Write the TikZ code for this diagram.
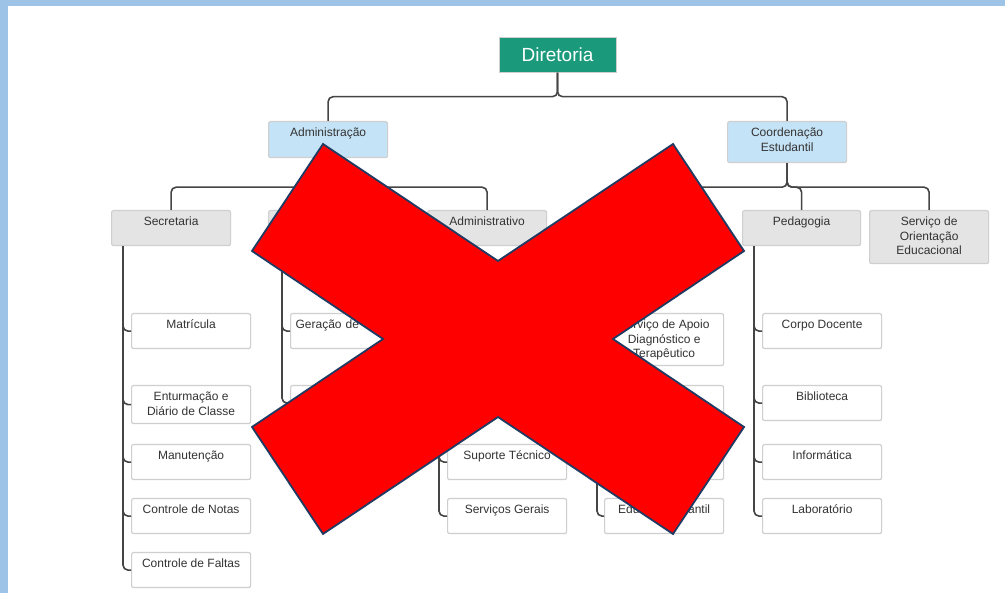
\documentclass[tikz,border=0pt]{standalone}
\usepackage{fontspec}
\setmainfont{Liberation Sans}
\definecolor{frameblue}{HTML}{9DC3E6}
\definecolor{dirgreen}{HTML}{1B997B}
\definecolor{admblue}{HTML}{C5E3F6}
\definecolor{unitgray}{HTML}{E4E4E4}
\definecolor{boxline}{HTML}{CFCFCF}
\definecolor{linkgray}{HTML}{454545}
\definecolor{textgray}{HTML}{333333}
\definecolor{crossred}{HTML}{FF0000}
\definecolor{crossnavy}{HTML}{1F3B63}
\begin{document}
\begin{tikzpicture}[x=1pt, y=-1pt,
    unit/.style={draw=boxline, line width=1.2pt, rounded corners=2pt, inner sep=0pt,
      minimum width=119pt, text height=15pt, text depth=20pt, anchor=north west,
      align=center, text=textgray, font=\fontsize{12}{14.5}\selectfont},
    twolines/.style={text height=29.5pt, text depth=#1},
    threelines/.style={text height=44pt, text depth=#1},
    branch/.style={unit, fill=admblue},
    dept/.style={unit, fill=unitgray},
    task/.style={unit, fill=white},
    link/.style={draw=linkgray, line width=1.6pt, rounded corners=5pt}]
    % Page and frame
    \useasboundingbox (0,0) rectangle (1005,593);
    \fill[white] (0,0) rectangle (1005,593);
    \fill[frameblue] (0,0) rectangle (1005,6);
    \fill[frameblue] (0,0) rectangle (8,593);

    % Top of the chart
    \node[draw=boxline, fill=dirgreen, text=white, font=\fontsize{19}{22}\selectfont,
      minimum width=117pt, minimum height=35pt, inner sep=0pt] (dir) at (557.5,55) {Diretoria};
    \node[branch, text depth=21pt] (adm) at (268,121) {Administração};
    \node[branch, twolines=11.5pt] (coord) at (727,121) {Coordenação\\Estudantil};

    % Departments
    \node[dept] (sec) at (111,210) {Secretaria};
    \node[dept] (unitb) at (268,210) {};
    \node[dept] (admv) at (427,210) {Administrativo};
    \node[dept] (unitd) at (585,210) {};
    \node[dept, minimum width=118pt] (ped) at (742,210) {Pedagogia};
    \node[dept, threelines=9pt] (soe) at (869,210) {Serviço de\\Orientação\\Educacional};

    % Secretaria
    \node[task] (mat) at (131,313) {Matrícula};
    \node[task, twolines=8.5pt] (ent) at (131,385) {Enturmação e\\Diário de Classe};
    \node[task] (man) at (131,444) {Manutenção};
    \node[task] (notas) at (131,498) {Controle de Notas};
    \node[task] (faltas) at (131,552) {Controle de Faltas};

    % second department
    \node[task, text width=109pt, inner xsep=5pt, align=left] (ger) at (290,313) {Geração de};
    \node[task] (unitbb) at (290,385) {};

    % Administrativo
    \node[task] (sup) at (447,444) {Suporte Técnico};
    \node[task] (serv) at (447,498) {Serviços Gerais};

    % fourth department
    \node[task, threelines=8pt] (apoio) at (604,313) {Serviço de Apoio\\Diagnóstico e\\Terapêutico};
    \node[task] (unitdb) at (604,385) {};
    \node[task] (unitdc) at (604,444) {};
    \node[task] (edu) at (604,498) {Educação Infantil};

    % Pedagogia
    \node[task] (corpo) at (762,313) {Corpo Docente};
    \node[task] (bib) at (762,385) {Biblioteca};
    \node[task] (info) at (762,444) {Informática};
    \node[task] (lab) at (762,498) {Laboratório};

    % Brackets between levels
    \foreach \b in {adm,coord}
      \draw[link] (dir.south) -- ++(0,24) -| (\b.north);
    \foreach \d in {sec,admv}
      \draw[link] (adm.south) -- ++(0,29) -| (\d.north);
    \draw[link] (adm.south) -- (unitb.north);
    \foreach \d in {unitd,ped,soe}
      \draw[link] (coord.south) -- ++(0,24) -| (\d.north);

    % Lists under the departments
    \foreach \t in {mat,ent,man,notas,faltas}
      \draw[link] ([xshift=12pt]sec.south west) |- (\t.west);
    \foreach \t in {ger,unitbb}
      \draw[link] ([xshift=14pt]unitb.south west) |- (\t.west);
    \foreach \t in {sup,serv}
      \draw[link] ([xshift=12pt]admv.south west) |- (\t.west);
    \foreach \t in {apoio,unitdb,unitdc,edu}
      \draw[link] ([xshift=12pt]unitd.south west) |- (\t.west);
    \foreach \t in {corpo,bib,info,lab}
      \draw[link] ([xshift=12pt]ped.south west) |- (\t.west);

    % Red cross over the chart
    \draw[crossnavy, fill=crossred, line width=1.8pt, line join=miter]
      (323,144) -- (498,261) -- (673,144) -- (744,251) -- (613,339) -- (744,427)
      -- (673,534) -- (498,417) -- (323,534) -- (252,427) -- (383,339) -- (252,251) -- cycle;
\end{tikzpicture}
\end{document}
